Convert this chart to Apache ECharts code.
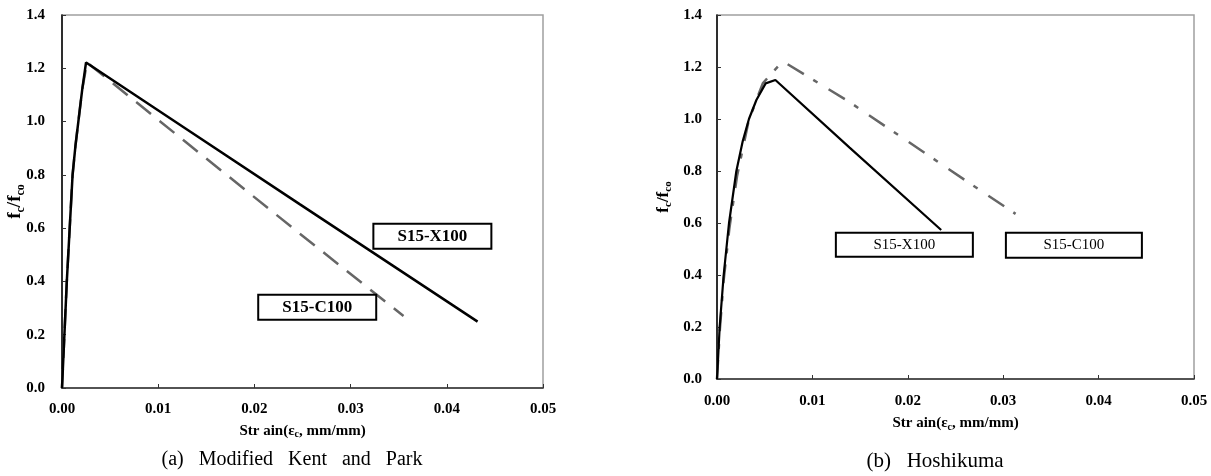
<!DOCTYPE html>
<html>
<head>
<meta charset="utf-8">
<script src="https://cdn.jsdelivr.net/npm/echarts@6/dist/echarts.min.js"></script>
<style>
html,body{margin:0;padding:0;background:#fff;}
#main{width:1211px;height:476px;}
</style>
</head>
<body>
<div id="main"></div>
<script>
// ---- Data ----
// (a) Modified Kent and Park
const kpX100Strain = [0, 0.0005, 0.0008, 0.0011, 0.0014, 0.0017, 0.0021, 0.0025, 0.0128, 0.0247, 0.0432];
const kpX100Stress = [0, 0.40, 0.60, 0.80, 0.91, 1.00, 1.12, 1.222, 0.975, 0.69, 0.249];
const kpC100Strain = [0, 0.0005, 0.0008, 0.0011, 0.0014, 0.0017, 0.0021, 0.0026, 0.0128, 0.0247, 0.0355];
const kpC100Stress = [0, 0.40, 0.60, 0.80, 0.91, 1.00, 1.12, 1.222, 0.925, 0.58, 0.27];
// (b) Hoshikuma
const hkX100Strain = [0, 0.00028, 0.0007, 0.00126, 0.00203, 0.0027, 0.00335, 0.00413, 0.0051, 0.00612, 0.0139, 0.0235];
const hkX100Stress = [0, 0.20, 0.40, 0.60, 0.80, 0.915, 1.00, 1.073, 1.137, 1.15, 0.89, 0.573];
const hkC100Strain = [0, 0.0003, 0.0007, 0.0013, 0.0021, 0.0033, 0.0041, 0.0048, 0.0057, 0.0069, 0.0139, 0.0262, 0.0313];
const hkC100Stress = [0, 0.19, 0.38, 0.58, 0.78, 0.99, 1.07, 1.137, 1.175, 1.222, 1.065, 0.76, 0.635];

const seriesNames = ['S15-X100', 'S15-C100'];
const captions = ['(a)   Modified   Kent   and   Park', '(b)   Hoshikuma'];
const xTicks = ['0.00', '0.01', '0.02', '0.03', '0.04', '0.05'];
const yTicks = ['0.0', '0.2', '0.4', '0.6', '0.8', '1.0', '1.2', '1.4'];

function pairs(xs, ys) { return xs.map((x, i) => [x, ys[i]]); }

const SERIF = '"Liberation Serif", "DejaVu Serif", serif';

function xAxisCfg(gridIndex, labelMargin, nameGap) {
  return {
    type: 'value', gridIndex, min: 0, max: 0.05, interval: 0.01,
    axisLine: { show: true, lineStyle: { color: '#333', width: 1.5 } },
    axisTick: { show: true, inside: true, length: 4, lineStyle: { color: '#333' } },
    splitLine: { show: false },
    axisLabel: {
      margin: labelMargin, color: '#000', fontFamily: SERIF, fontWeight: 'bold', fontSize: 15,
      formatter: v => xTicks[Math.round(v / 0.01)]
    },
    name: 'Str ain(ε{s|c}, mm/mm)', nameLocation: 'middle', nameGap: nameGap,
    nameTextStyle: {
      color: '#000', fontFamily: SERIF, fontWeight: 'bold', fontSize: 15, lineHeight: 18,
      rich: { s: { fontFamily: SERIF, fontWeight: 'bold', fontSize: 10, verticalAlign: 'bottom', lineHeight: 11, padding: [6, 0, 0, 0] } }
    }
  };
}
function yAxisCfg(gridIndex, labelMargin, nameGap, fs) {
  return {
    type: 'value', gridIndex, min: 0, max: 1.4, interval: 0.2,
    axisLine: { show: true, lineStyle: { color: '#000', width: 1.5 } },
    axisTick: { show: true, inside: true, length: 4, lineStyle: { color: '#333' } },
    splitLine: { show: false },
    axisLabel: {
      margin: labelMargin, color: '#000', fontFamily: SERIF, fontWeight: 'bold', fontSize: 15,
      formatter: v => yTicks[Math.round(v / 0.2)]
    },
    name: '{b|f}{s|c}{b|/f}{s|co}', nameLocation: 'middle', nameGap: nameGap, nameRotate: 90,
    nameMoveOverlap: false,
    nameTextStyle: {
      rich: {
        b: { fontFamily: SERIF, fontWeight: 'bold', fontSize: fs, color: '#000', lineHeight: fs + 4 },
        s: { fontFamily: SERIF, fontWeight: 'bold', fontSize: Math.round(fs * 0.65), color: '#000', verticalAlign: 'bottom', lineHeight: Math.round(fs * 0.65), padding: [Math.round(fs * 0.45), 0, 0, 0] }
      }
    }
  };
}

function boxLabel(coord, text, w, h, bold, fs) {
  return {
    coord, symbol: 'rect', symbolSize: 1,
    itemStyle: { color: 'rgba(0,0,0,0)' },
    label: {
      show: true, position: 'inside', formatter: text, color: '#000',
      fontFamily: SERIF, fontWeight: bold ? 'bold' : 'normal', fontSize: fs,
      backgroundColor: '#fff', borderColor: '#000', borderWidth: 2,
      width: w - 4, height: h - 4, lineHeight: h - 4, align: 'center', verticalAlign: 'middle', padding: 0
    }
  };
}

const option = {
  animation: false,
  backgroundColor: '#fff',
  grid: [
    { left: 62, top: 15, width: 481, height: 373, show: true, borderColor: '#a0a0a0', borderWidth: 1.5, backgroundColor: 'transparent' },
    { left: 717, top: 15, width: 477, height: 364, show: true, borderColor: '#a0a0a0', borderWidth: 1.5, backgroundColor: 'transparent' }
  ],
  xAxis: [xAxisCfg(0, 14, 31), xAxisCfg(1, 15, 35)],
  yAxis: [yAxisCfg(0, 17, 35, 19), yAxisCfg(1, 15, 43, 17)],
  series: [
    {
      name: seriesNames[1], type: 'line', xAxisIndex: 0, yAxisIndex: 0,
      data: pairs(kpC100Strain, kpC100Stress), showSymbol: false, symbol: 'none',
      lineStyle: { color: '#666', width: 2.5, type: [19, 11] },
      markPoint: { silent: true, data: [boxLabel([0.02653, 0.303], seriesNames[1], 120, 27, true, 17)] }
    },
    {
      name: seriesNames[0], type: 'line', xAxisIndex: 0, yAxisIndex: 0,
      data: pairs(kpX100Strain, kpX100Stress), showSymbol: false, symbol: 'none',
      lineStyle: { color: '#000', width: 2.5 },
      markPoint: { silent: true, data: [boxLabel([0.0385, 0.570], seriesNames[0], 120, 27, true, 17)] }
    },
    {
      name: seriesNames[1], type: 'line', xAxisIndex: 1, yAxisIndex: 1,
      data: pairs(hkC100Strain, hkC100Stress), showSymbol: false, symbol: 'none',
      lineStyle: { color: '#666', width: 2.5, type: [19, 11, 5, 13] },
      markPoint: { silent: true, data: [boxLabel([0.03741, 0.5146], seriesNames[1], 138, 27, false, 15)] }
    },
    {
      name: seriesNames[0], type: 'line', xAxisIndex: 1, yAxisIndex: 1,
      data: pairs(hkX100Strain, hkX100Stress), showSymbol: false, symbol: 'none',
      lineStyle: { color: '#000', width: 2.2 },
      markPoint: { silent: true, data: [boxLabel([0.01964, 0.5165], seriesNames[0], 139, 26, false, 15)] }
    }
  ],
  graphic: [
    { type: 'text', x: 292, y: 460, style: { text: captions[0], font: '20px ' + SERIF, fill: '#000', align: 'center', verticalAlign: 'middle' } },
    { type: 'text', x: 935, y: 461, style: { text: captions[1], font: '21px ' + SERIF, fill: '#000', align: 'center', verticalAlign: 'middle' } }
  ]
};

const chart = echarts.init(document.getElementById('main'), null, { renderer: 'canvas' });
chart.setOption(option);
</script>
</body>
</html>
